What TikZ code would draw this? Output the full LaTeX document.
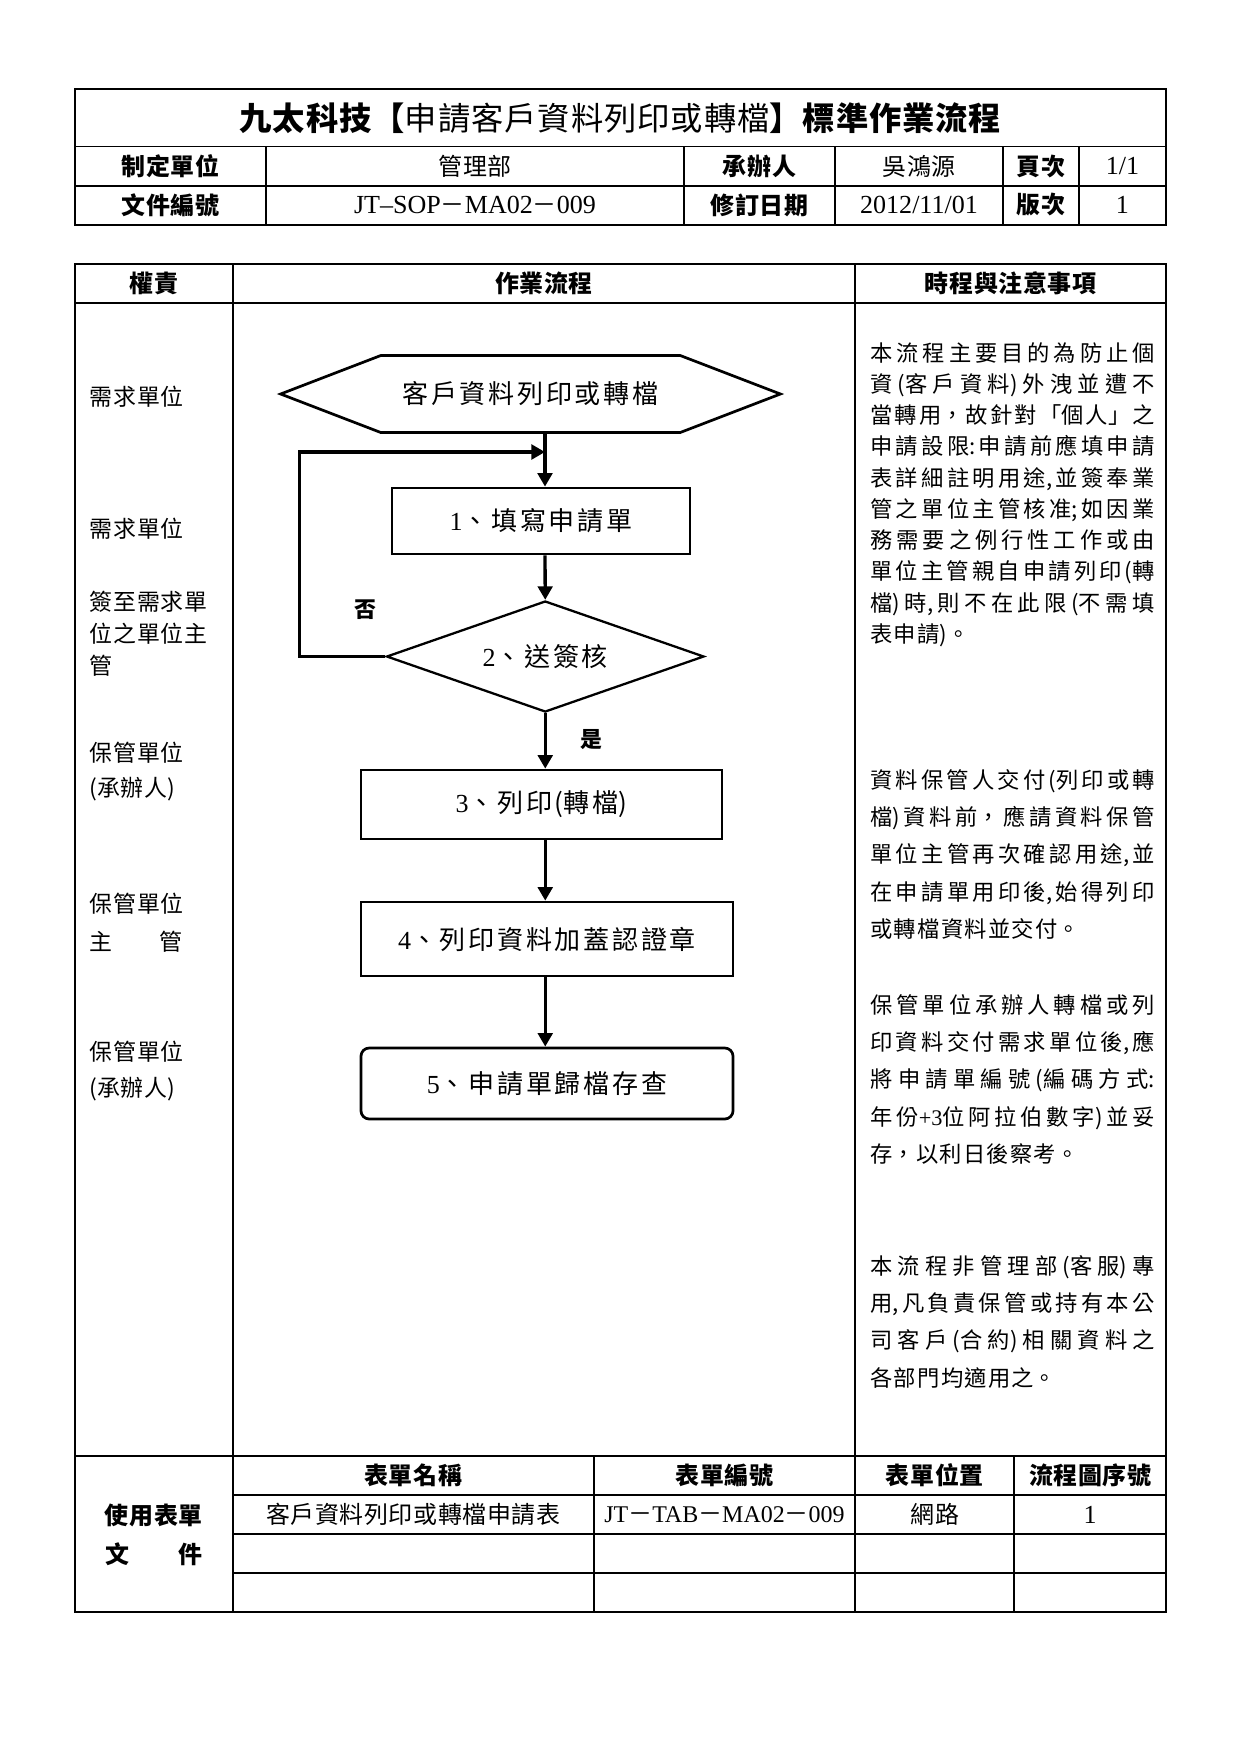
\documentclass[tikz,border=0pt]{standalone}
\usepackage{fontspec}
\setmainfont{Noto Sans CJK TC}
\newfontfamily\latf{Liberation Serif}
\usetikzlibrary{arrows.meta,shapes.geometric}
\XeTeXlinebreaklocale "zh"
\XeTeXlinebreakskip 0pt plus 1pt\relax
\newcommand\fsz[2]{\fontsize{#1}{#2}\selectfont}
\newcommand\trk[1]{\XeTeXlinebreakskip #1\relax}
\newcommand\lt[1]{{\latf\fontsize{12.5}{14}\selectfont #1}}
\newcommand\ls[1]{{\latf\fontsize{11.5}{14}\selectfont #1}}
\tikzset{
  frame/.style={line width=1.3pt},
  grid/.style={line width=0.9pt},
  txt/.style={inner sep=0pt, text width=160pt, align=center, font={\fsz{11.5}{14}\trk{0.3pt}}},
  btxt/.style={inner sep=0pt, text width=160pt, align=center, font={\fsz{11.5}{14}\bfseries\trk{0.3pt}}},
  role/.style={inner sep=0pt, anchor=west, text width=100pt, align=left, font={\fsz{11}{17.2}\trk{0.45pt}}},
  note/.style={inner sep=0pt, anchor=north west, text width=136.5pt, align=justify},
  proc/.style={draw, line width=1.3pt, inner sep=0pt, align=center, font={\fsz{12.5}{15}\trk{1.3pt}}},
  starttext/.style={inner sep=0pt, align=center, font={\fsz{12.5}{15}\trk{1.3pt}}},
  arr/.style={line width=1.6pt, -{Triangle[length=6.5pt,width=7pt]}},
  yn/.style={inner sep=0pt, font={\fsz{10.5}{12}\bfseries}},
}
\begin{document}
\begin{tikzpicture}[x=0.48pt,y=-0.48pt]
\useasboundingbox (0,0) rectangle (1240,1754);
% ---------- header table ----------
\draw[frame] (75,89) rectangle (1166,225);
\draw[grid] (75,146.5) -- (1166,146.5) (75,185.6) -- (1166,185.6);
\foreach \x in {266,684,835,1003,1079} \draw[grid] (\x,146.5) -- (\x,225);
\node[txt, text width=440pt, font={\fsz{15.5}{18}\trk{0.45pt}}] (title) at (620.5,118)
  {{\bfseries 九太科技【}申請客戶資料列印或轉檔{\bfseries 】標準作業流程}};
\node[btxt] (h1) at (170.5,166) {制定單位};
\node[txt] (h2) at (475,166) {管理部};
\node[btxt] (h3) at (759.5,166) {承辦人};
\node[txt] (h4) at (919,166) {吳鴻源};
\node[btxt] (h5) at (1041,166) {頁次};
\node[txt] (h6) at (1122.5,166) {\lt{1/1}};
\node[btxt] (h7) at (170.5,205) {文件編號};
\node[txt] (h8) at (475,205) {\lt{JT–SOP}－\lt{MA02}－\lt{009}};
\node[btxt] (h9) at (759.5,205) {修訂日期};
\node[txt] (h10) at (919,205) {\lt{2012/11/01}};
\node[btxt] (h11) at (1041,205) {版次};
\node[txt] (h12) at (1122.5,205) {\lt{1}};
% ---------- main table ----------
\draw[frame] (75,264) rectangle (1166,1612);
\draw[grid] (75,303) -- (1166,303);
\draw[grid] (232.6,264) -- (232.6,1612);
\draw[grid] (855.3,264) -- (855.3,1612);
\draw[grid] (75,1455.7) -- (1166,1455.7);
\draw[grid] (232.6,1494.8) -- (1166,1494.8) (232.6,1534) -- (1166,1534) (232.6,1573.2) -- (1166,1573.2);
\draw[grid] (593.7,1455.7) -- (593.7,1612) (1014.1,1455.7) -- (1014.1,1612);
\node[btxt] (c1) at (153.8,283.5) {權責};
\node[btxt] (c2) at (544,283.5) {作業流程};
\node[btxt] (c3) at (1010.7,283.5) {時程與注意事項};
% ---------- roles ----------
\node[role] (r1) at (89,397) {需求單位};
\node[role] (r2) at (89,529) {需求單位};
\node[role, font={\fsz{11}{15.4}\trk{0.45pt}}] (r3) at (89,633.5) {簽至需求單\\位之單位主\\管};
\node[role] (r4) at (89,771.5) {保管單位\\(承辦人)};
\node[role, font={\fsz{11}{18.2}\trk{0.45pt}}] (r5) at (89,922.4) {保管單位\\主　　管};
\node[role] (r6) at (89,1071) {保管單位\\(承辦人)};
% ---------- flowchart ----------
\node[starttext, text width=200pt, minimum width=239.5pt, minimum height=36.5pt] (hex) at (530.5,394) {客戶資料列印或轉檔};
\draw[line width=1.3pt] (hex.west) -- ([xshift=48pt]hex.north west) -- ([xshift=-48pt]hex.north east)
  -- (hex.east) -- ([xshift=-48pt]hex.south east) -- ([xshift=48pt]hex.south west) -- cycle;
\node[proc, text width=140pt, minimum width=143pt, minimum height=31.7pt] (b1) at (541,521) {{\latf 1}、填寫申請單};
\node[proc, diamond, aspect=2.86, text width=90pt, line width=1.1pt, minimum width=152.4pt, minimum height=53.3pt] (d2) at (545.25,656.5) {{\latf 2}、送簽核};
\node[proc, text width=165pt, minimum width=173.3pt, minimum height=33.1pt] (b3) at (541.5,804.5) {{\latf 3}、列印(轉檔)};
\node[proc, text width=170pt, minimum width=178.6pt, minimum height=35.5pt] (b4) at (547,939) {{\latf 4}、列印資料加蓋認證章};
\node[proc, text width=170pt, rounded corners=4pt, minimum width=178.6pt, minimum height=34.1pt] (b5) at (547,1083.5) {{\latf 5}、申請單歸檔存查};
\coordinate (merge) at (545,452);
\draw[arr] (hex.south -| merge) -- (b1.north -| merge);
\draw[arr] (b1.south -| merge) -- (d2.north);
\draw[arr] (d2.south) -- (b3.north -| d2.south);
\draw[arr] (b3.south -| d2.south) -- (b4.north -| d2.south);
\draw[arr] (b4.south -| d2.south) -- (b5.north -| d2.south);
\draw[arr] (d2.west) -- ++(-86,0) |- (merge);
\node[yn] (no) at (365.5,609.5) {否};
\node[yn] (yes) at (591.6,739.6) {是};
% ---------- notes ----------
\node[note, font={\fsz{10.7}{15}\trk{0.6pt plus 5pt}}] (n1) at (870,342)
{本流程主要目的為防止個\linebreak 資(客戶資料)外洩並遭不\linebreak 當轉用，故針對「個人」之\linebreak 申請設限:申請前應填申請\linebreak 表詳細註明用途,並簽奉業\linebreak 管之單位主管核准;如因業\linebreak 務需要之例行性工作或由\linebreak 單位主管親自申請列印(轉\linebreak 檔)時,則不在此限(不需填\linebreak 表申請)。};
\node[note, font={\fsz{10.7}{17.9}\trk{0.6pt plus 5pt}}] (n2) at (870,769)
{資料保管人交付(列印或轉\linebreak 檔)資料前，應請資料保管\linebreak 單位主管再次確認用途,並\linebreak 在申請單用印後,始得列印\linebreak 或轉檔資料並交付。};
\node[note, font={\fsz{10.7}{17.9}\trk{0.6pt plus 5pt}}] (n3) at (870,994)
{保管單位承辦人轉檔或列\linebreak 印資料交付需求單位後,應\linebreak 將申請單編號(編碼方式:\linebreak 年份{\latf +3}位阿拉伯數字)並妥\linebreak 存，以利日後察考。};
\node[note, font={\fsz{10.7}{17.9}\trk{0.6pt plus 5pt}}] (n4) at (870,1255)
{本流程非管理部(客服)專\linebreak 用,凡負責保管或持有本公\linebreak 司客戶(合約)相關資料之\linebreak 各部門均適用之。};
% ---------- forms table ----------
\node[btxt] (t1) at (413.2,1475.3) {表單名稱};
\node[btxt] (t2) at (724.5,1475.3) {表單編號};
\node[btxt] (t3) at (934.7,1475.3) {表單位置};
\node[btxt] (t4) at (1090.2,1475.3) {流程圖序號};
\node[txt] (t5) at (413.2,1514.4) {客戶資料列印或轉檔申請表};
\node[txt] (t6) at (724.5,1514.4) {\ls{JT}－\ls{TAB}－\ls{MA02}－\ls{009}};
\node[txt] (t7) at (934.7,1514.4) {網路};
\node[txt] (t8) at (1090.2,1514.4) {\lt{1}};
\node[btxt, font={\fsz{11.5}{18.7}\bfseries\trk{0.3pt}}] (forms) at (153.8,1534.5) {使用表單\\文　　件};
\end{tikzpicture}
\end{document}
